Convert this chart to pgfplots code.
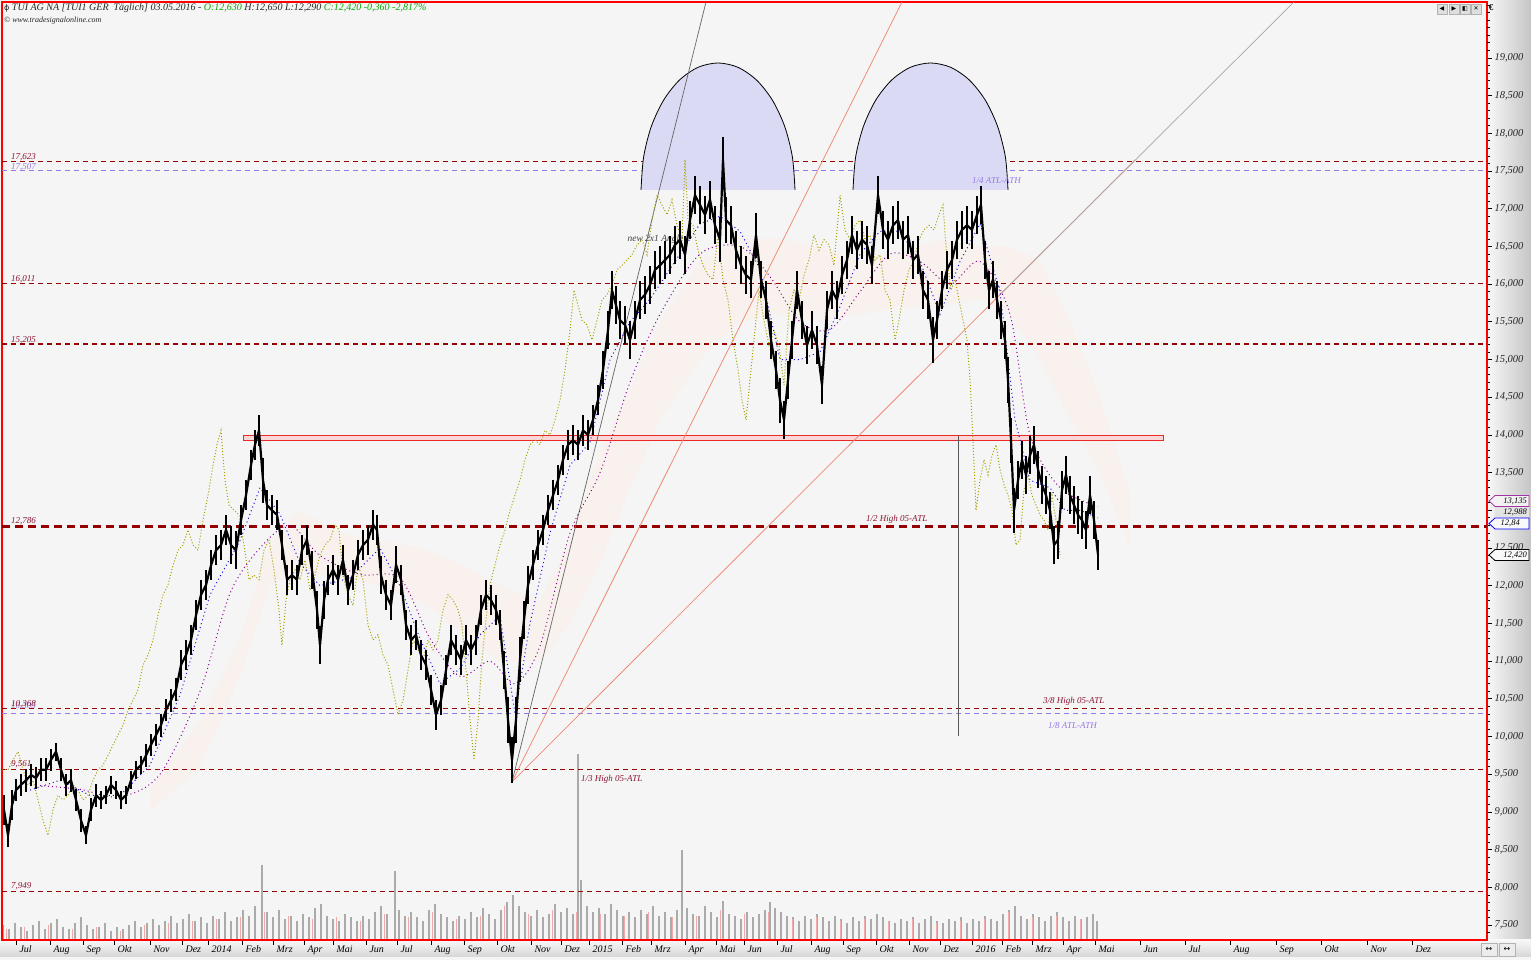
\documentclass[border=0pt]{standalone}
\usepackage{pgfplots}
\pgfplotsset{compat=1.18}
\usepackage{pgfplotstable}
\usepackage{fontspec}
\setmainfont{Liberation Serif}
\newfontfamily\dejavu{DejaVu Sans}

\definecolor{bg}{RGB}{245,245,245}
\definecolor{lvlred}{RGB}{150,0,0}
\definecolor{lvlpurple}{RGB}{150,120,230}
\definecolor{semi}{RGB}{218,218,245}
\definecolor{boxred}{RGB}{235,40,40}
\definecolor{boxfill}{RGB}{250,215,215}
\definecolor{salmon}{RGB}{240,140,120}
\definecolor{chikou}{RGB}{165,160,0}
\definecolor{tenkan}{RGB}{20,20,230}
\definecolor{kijun}{RGB}{140,0,140}
\definecolor{kumo}{RGB}{248,241,237}
\definecolor{vol}{RGB}{170,170,170}
\definecolor{volred}{RGB}{240,170,170}
\definecolor{hdrgreen}{RGB}{0,170,0}
\definecolor{txtred}{RGB}{140,20,50}

% daily closes (x = chart position, c = price, e = half range of the day)
\pgfplotstableread{
x c e
4 9030 200
8 8690 150
12 9090 200
16 9290 150
21 9360 150
26 9420 150
31 9490 150
36 9450 150
41 9560 150
46 9560 150
51 9690 150
56 9800 120
61 9560 150
66 9360 150
71 9420 150
76 9160 150
81 8890 150
86 8690 120
91 9030 150
96 9220 150
101 9160 120
106 9220 120
111 9360 120
116 9290 120
121 9160 120
126 9220 120
131 9420 120
136 9560 120
141 9620 120
146 9750 150
151 9890 150
156 10020 150
161 10150 150
166 10350 150
171 10480 150
176 10620 150
181 10950 200
186 11080 200
191 11280 200
196 11610 200
201 11880 200
206 12010 200
211 12270 200
216 12470 200
221 12540 200
226 12740 200
231 12540 250
236 12470 250
241 12870 200
246 13200 200
251 13600 200
255 13870 200
259 14060 200
263 13400 300
267 13070 200
272 13000 200
277 12940 200
282 12540 200
287 12080 200
292 12140 200
297 12080 200
302 12470 200
307 12610 200
312 12210 250
317 11680 250
320 11210 250
324 11810 250
328 12080 200
333 12210 200
338 12080 200
343 12340 200
348 11940 200
353 12140 200
358 12410 200
363 12540 200
368 12610 200
373 12810 200
377 12740 200
381 12140 250
386 11880 200
391 11740 200
396 12280 250
401 12080 200
406 11480 200
411 11280 200
416 11350 200
421 11080 200
426 10950 200
431 10620 200
436 10290 200
441 10480 200
446 10880 200
451 11280 200
456 11150 200
461 11020 200
466 11280 200
471 11150 200
476 11280 200
481 11680 200
486 11880 200
491 11810 200
496 11680 200
500 11480 200
504 10880 250
508 10220 300
512 9690 300
516 10220 300
520 11020 300
524 11550 250
528 12010 250
533 12280 200
538 12540 200
543 12740 200
548 13000 200
553 13200 200
558 13400 200
563 13670 200
568 13870 200
573 13930 200
578 13870 200
583 14060 200
588 14000 200
593 14200 200
598 14460 200
603 14860 250
608 15390 250
612 15920 250
616 15720 250
620 15520 250
625 15460 250
630 15260 250
635 15520 250
640 15790 250
645 15860 250
650 15990 250
655 16190 250
660 16250 250
665 16320 250
670 16390 250
675 16520 250
680 16590 250
685 16390 250
690 16850 250
695 17180 250
700 17050 250
705 16920 250
710 17120 250
715 16780 250
720 16590 300
723 17650 300
726 16850 300
731 16780 250
736 16450 250
741 16250 250
746 16120 250
751 16060 250
756 16650 300
761 16060 250
766 15790 250
771 15260 250
776 14860 250
780 14460 300
784 14200 250
788 14730 250
792 15260 250
797 15920 250
802 15520 250
807 15190 250
812 15390 250
817 15190 250
822 14660 250
827 15660 250
832 15920 250
837 15790 250
842 16120 250
847 16320 250
852 16650 250
857 16450 250
862 16590 250
867 16520 250
872 16250 250
878 17180 250
883 16720 250
888 16590 250
893 16780 250
898 16850 250
903 16590 250
908 16650 250
913 16320 250
918 16390 250
923 15920 250
928 15790 250
933 15260 300
937 15520 250
942 15920 250
947 16190 250
952 16320 250
957 16590 250
962 16720 250
967 16780 250
972 16720 250
977 16920 250
981 17050 250
985 16320 250
989 15920 250
993 16060 250
997 15790 250
1001 15520 250
1005 15260 250
1008 14730 300
1011 13930 300
1014 13000 300
1018 13400 250
1022 13670 250
1026 13470 250
1030 13730 250
1034 13870 250
1038 13540 250
1042 13340 250
1046 13200 250
1050 13000 250
1054 12540 250
1058 12610 250
1062 13270 250
1066 13470 250
1070 13200 250
1074 13070 250
1078 12940 250
1082 12870 250
1086 12740 250
1090 13200 250
1094 12870 250
1098 12410 200
}\closes

% volume (millions)
\pgfplotstableread{
x v
3 0.8
9 0.6
15 0.9
21 0.7
27 0.5
33 0.8
39 1.0
45 0.6
51 0.9
57 1.1
63 0.7
69 0.6
75 0.9
81 1.2
87 0.8
93 0.6
99 0.7
105 0.9
111 0.5
117 0.7
123 0.6
129 0.8
135 1.0
141 0.7
147 0.9
153 1.1
159 0.8
165 1.0
171 1.3
177 0.9
183 1.1
189 1.4
195 1.0
201 1.2
207 0.9
213 1.3
219 1.1
225 1.5
231 1.0
237 1.2
243 1.6
249 1.3
255 1.8
262 4.0
267 1.5
273 1.2
279 1.6
285 1.1
291 1.3
297 1.0
303 1.4
309 1.2
315 1.7
321 1.9
327 1.3
333 1.1
339 1.0
345 1.4
351 1.2
357 1.0
363 1.3
369 1.1
375 1.5
381 1.8
387 1.4
395 3.7
399 1.6
405 1.3
411 1.5
417 1.2
423 1.0
429 1.6
435 1.9
441 1.4
447 1.2
453 1.0
459 1.3
465 1.1
471 1.5
477 1.2
483 1.7
489 1.4
495 1.1
501 1.6
507 2.0
513 2.4
519 1.8
525 1.5
531 1.3
537 1.6
543 1.2
549 1.4
555 1.9
561 1.5
567 1.7
573 1.4
578 9.9
581 3.2
587 1.8
593 1.5
599 1.7
605 1.4
611 1.9
617 1.6
623 1.3
629 1.5
635 1.2
641 1.6
647 1.4
653 1.8
659 1.3
665 1.5
671 1.2
677 1.6
682 4.8
687 1.7
693 1.4
699 1.3
705 1.8
711 1.5
717 1.2
723 2.1
729 1.4
735 1.3
741 1.1
747 1.5
753 1.2
759 1.4
765 1.6
770 2.0
775 1.7
781 1.5
787 1.3
793 1.2
799 1.0
805 1.3
811 1.1
817 1.4
823 1.2
829 1.0
835 1.3
841 1.1
847 0.9
853 1.2
859 1.0
865 1.3
871 1.1
877 1.4
883 1.2
889 1.0
895 0.9
901 1.1
907 1.0
913 1.2
919 0.9
925 1.1
931 1.3
937 1.0
943 0.9
949 1.1
955 1.0
961 1.2
967 0.9
973 1.1
979 1.0
985 1.3
991 1.1
997 1.0
1003 1.4
1009 1.6
1015 1.8
1021 1.3
1027 1.1
1033 1.4
1039 1.2
1045 1.0
1051 1.3
1057 1.5
1063 1.2
1069 1.0
1075 1.3
1081 1.1
1087 1.2
1093 1.4
1097 1.0
}\volume

\begin{document}
\begin{tikzpicture}[x=1pt,y=1pt]
\fill[bg] (0,0) rectangle (1531,960);
\shade[left color=gray!6, right color=gray!45] (1487,20) rectangle (1531,960);
\shade[top color=gray!6, bottom color=gray!32] (0,3) rectangle (1531,20);
\fill[gray!8] (0,0) rectangle (1531,3);

% volume panel
\begin{axis}[at={(2pt,20pt)}, anchor=south west, scale only axis,
  width=1485pt, height=938pt, xmin=2, xmax=1487, ymin=0, ymax=50,
  axis lines=none]
\addplot[ycomb, vol, line width=1.1pt] table[x=x,y=v] {\volume};
\addplot[ycomb, volred, line width=1pt] coordinates {(6,0.6) (24,0.7) (48,0.8) (72,0.6) (96,0.7) (120,0.5) (144,0.8) (168,0.9) (192,1.0) (216,1.1) (240,1.2) (264,1.5) (288,1.3) (312,1.1) (336,1.2) (360,1.0) (384,1.4) (408,1.2) (432,1.5) (456,1.1) (480,1.3) (504,1.8) (528,1.4) (552,1.6) (576,1.5) (600,1.4) (624,1.3) (648,1.5) (672,1.2) (696,1.3) (720,1.6) (744,1.4) (768,1.5) (792,1.1) (816,1.2) (840,1.0) (864,1.1) (888,1.0) (912,1.1) (936,0.9) (960,1.0) (984,1.1) (1008,1.5) (1032,1.2) (1056,1.3) (1080,1.1)};
\end{axis}

% price panel
\begin{axis}[at={(2pt,20pt)}, anchor=south west, scale only axis,
  width=1485pt, height=938pt,
  xmin=2, xmax=1487, ymin=7302, ymax=19742,
  axis line style={red, line width=1.3pt},
  tick align=outside, major tick length=5pt, minor tick length=2.5pt,
  tick style={black, line width=0.8pt},
  ytick={7500,8000,...,19000}, minor y tick num=4,
  extra y ticks={19100,19200,19300,19400,19500,19600,19700,7400},
  extra y tick labels={},
  extra y tick style={major tick length=2.5pt},
  ytick pos=right, yticklabel pos=right,
  yticklabel style={font=\itshape\fontsize{10.5}{12}\selectfont, text=black!85, xshift=-1pt},
  /pgf/number format/.cd, fixed, precision=0, 1000 sep={,}, assume math mode=true,
  /pgfplots/.cd,
  scaled y ticks=false,
  xtick={16,50,83,114,150,182,208,242,273,304,333,366,397,431,464,497,531,561,589,622,651,685,716,744,777,811,843,876,909,940,972,1002,1032,1063,1095,1140,1185,1230,1276,1321,1367,1412},
  xticklabels={Jul,Aug,Sep,Okt,Nov,Dez,2014,Feb,Mrz,Apr,Mai,Jun,Jul,Aug,Sep,Okt,Nov,Dez,2015,Feb,Mrz,Apr,Mai,Jun,Jul,Aug,Sep,Okt,Nov,Dez,2016,Feb,Mrz,Apr,Mai,Jun,Jul,Aug,Sep,Okt,Nov,Dez},
  xtick pos=bottom,
  xticklabel style={font=\itshape\fontsize{10}{12}\selectfont, anchor=north west, xshift=0pt, yshift=3pt},
]
% cloud
\addplot[fill=kumo, draw=none] coordinates {(150,9300) (200,10200) (240,11300) (270,12600) (300,13000) (340,12700) (380,12600) (420,12500) (460,12300) (500,12000) (540,11800) (570,12600) (600,13800) (630,14600) (660,15500) (700,16300) (740,16600) (780,16600) (820,16500) (860,16300) (900,16400) (940,16600) (980,16500) (1010,16500) (1040,16300) (1070,15500) (1100,14500) (1130,13200)
 (1130,12500) (1100,13500) (1070,14200) (1040,15000) (1010,15600) (980,15800) (940,15700) (900,15700) (860,15600) (820,15500) (780,15600) (740,15500) (700,15000) (660,14200) (630,13300) (600,12300) (570,11500) (540,11000) (500,11000) (460,11400) (420,11800) (380,12000) (340,12100) (300,12200) (270,12000) (240,10800) (200,9600) (150,9000)};
% levels
\addplot[lvlred, line width=1.2pt, dash pattern=on 5pt off 4pt] coordinates {(2,17623) (1487,17623)};
\addplot[lvlpurple, line width=1.1pt, dash pattern=on 5pt off 4pt] coordinates {(2,17507) (1487,17507)};
\addplot[lvlred, line width=1.2pt, dash pattern=on 5pt off 4pt] coordinates {(2,16011) (1487,16011)};
\addplot[lvlred, line width=1.2pt, dash pattern=on 5pt off 4pt] coordinates {(2,15205) (1487,15205)};
\addplot[lvlred, line width=2.4pt, dash pattern=on 8pt off 5pt] coordinates {(2,12786) (1487,12786)};
\addplot[lvlred, line width=1.2pt, dash pattern=on 5pt off 4pt] coordinates {(2,10368) (1487,10368)};
\addplot[lvlpurple, line width=1.1pt, dash pattern=on 5pt off 4pt] coordinates {(2,10305) (1487,10305)};
\addplot[lvlred, line width=1.2pt, dash pattern=on 5pt off 4pt] coordinates {(2,9561) (1487,9561)};
\addplot[lvlred, line width=1.2pt, dash pattern=on 5pt off 4pt] coordinates {(2,7949) (1487,7949)};
% resistance box
\addplot[draw=boxred, fill=boxfill, line width=1pt] coordinates {(243,13920) (1163,13920) (1163,13990) (243,13990) (243,13920)};
% arcs
\addplot[smooth, fill=semi, draw=black, line width=0.8pt] coordinates {(641,17249) (643.6,17685) (651.3,18091) (663.6,18440) (679.5,18707) (698.1,18876) (718,18933) (737.9,18876) (756.5,18707) (772.4,18440) (784.7,18091) (792.4,17685) (795,17249)};
\addplot[smooth, fill=semi, draw=black, line width=0.8pt] coordinates {(853,17249) (855.6,17685) (863.4,18091) (875.7,18440) (891.7,18707) (910.4,18876) (930.5,18933) (950.6,18876) (969.3,18707) (985.3,18440) (997.6,18091) (1005.4,17685) (1008,17249)};
% angles from the low
\addplot[gray!80!black, line width=0.7pt] coordinates {(512,9400) (706,19742)};
\addplot[salmon, line width=0.8pt] coordinates {(512,9400) (902,19742)};
\addplot[salmon, line width=0.8pt] coordinates {(512,9400) (1135,17647)};
\addplot[gray!70, line width=0.7pt] coordinates {(1000,15860) (1294,19742)};
\addplot[gray!70!black, line width=0.8pt] coordinates {(958,13990) (958,10007)};
\node[anchor=west, font=\itshape\fontsize{9.5}{11}\selectfont, text=black!75] at (axis cs:624,16599) {new 2x1 Angle};
% lagging span
\addplot[chikou, line width=1pt, dash pattern=on 1pt off 2pt] table[x expr=\thisrow{x}-38, y=c] {\closes};
% kijun
\addplot[kijun, line width=1pt, dash pattern=on 1pt off 3pt, smooth] coordinates {(40,9350) (80,9300) (120,9200) (160,9500) (200,10600) (230,11900) (260,12500) (290,12800) (320,12400) (360,12150) (400,12100) (430,11300) (460,10800) (490,11000) (515,10700) (540,11200) (570,12700) (600,13500) (630,14700) (660,15600) (700,16400) (740,16500) (770,16100) (800,15500) (830,15400) (860,15900) (890,16400) (920,16300) (950,16000) (980,16300) (1010,15600) (1030,14000) (1060,13300) (1098,13050)};
% tenkan
\addplot[tenkan, line width=1pt, dash pattern=on 1pt off 3pt] coordinates {(30,9290) (60,9420) (90,9220) (120,9220) (150,9620) (180,10550) (210,11880) (240,12600) (260,13300) (280,12950) (300,12300) (320,12000) (350,12100) (380,12500) (400,12000) (420,11300) (440,10700) (460,10900) (480,11350) (500,11600) (515,10300) (530,11500) (550,12700) (570,13600) (590,13900) (610,15000) (630,15500) (650,15800) (680,16400) (700,16800) (720,16900) (740,16700) (760,16200) (780,15000) (800,15000) (820,15100) (840,15700) (860,16400) (880,16700) (900,16700) (920,16300) (940,15600) (960,16300) (980,16800) (1000,15900) (1015,14200) (1030,13400) (1050,13300) (1065,13000) (1080,13000) (1098,12900)};
% price
\addplot[black, line width=2.2pt, line join=bevel,
  error bars/.cd, y dir=both, y explicit, error mark=none,
  error bar style={black, line width=1.2pt}]
  table[x=x, y=c, y error=e] {\closes};
\end{axis}

% level labels
\begin{scope}[font=\itshape\fontsize{9}{10}\selectfont]
\node[anchor=west, text=txtred, inner sep=0] at (11,803) {17,623};
\node[anchor=west, text=lvlpurple, inner sep=0] at (11,793) {17,507};
\node[anchor=west, text=txtred, inner sep=0] at (11,681) {16,011};
\node[anchor=west, text=txtred, inner sep=0] at (11,620) {15,205};
\node[anchor=west, text=txtred, inner sep=0] at (11,439) {12,786};
\node[anchor=west, text=lvlpurple, inner sep=0] at (11,254) {10,305};
\node[anchor=west, text=txtred, inner sep=0] at (11,256) {10,368};
\node[anchor=west, text=txtred, inner sep=0] at (11,196) {9,561};
\node[anchor=west, text=txtred, inner sep=0] at (11,74) {7,949};
\node[anchor=west, text=txtred, inner sep=0] at (866,441) {1/2 High 05-ATL};
\node[anchor=west, text=txtred, inner sep=0] at (1043,259) {3/8 High 05-ATL};
\node[anchor=west, text=lvlpurple, inner sep=0] at (1048,234) {1/8 ATL-ATH};
\node[anchor=west, text=txtred, inner sep=0] at (581,181) {1/3 High 05-ATL};
\node[anchor=west, text=lvlpurple, inner sep=0] at (972,779) {1/4 ATL-ATH};
\end{scope}

% header
\node[anchor=west, inner sep=0, font=\itshape\fontsize{10}{12}\selectfont, text=black!85] at (4,952)
 {{\dejavu\upshape\fontsize{8}{10}\selectfont ɸ} TUI AG NA [TUI1 GER\ \ Täglich] 03.05.2016 - \textcolor{hdrgreen}{O:12,630} H:12,650 L:12,290 \textcolor{hdrgreen}{C:12,420 -0,360 -2,817\%}};
\node[anchor=west, inner sep=0, font=\itshape\fontsize{8}{10}\selectfont, text=black!85] at (4,939) {\copyright\ www.tradesignalonline.com};

% window buttons
\foreach \bx/\g in {1437/◀,1449/▶,1460/◧,1471/✕}{
  \draw[gray!60, fill=gray!25] (\bx,946) rectangle ++(10,10);
  \node[font=\dejavu\fontsize{6}{6}\selectfont, inner sep=0] at (\bx+5,951) {\g};
}
\node[font=\fontsize{9}{10}\selectfont\bfseries, inner sep=0] at (1491,952) {€};
\foreach \bx in {1481,1499}{
  \draw[gray!60, fill=gray!15] (\bx,4) rectangle ++(16,13);
  \node[font=\dejavu\fontsize{8}{8}\selectfont, inner sep=0] at (\bx+8,10.5) {↔};
}

% last value markers
\begin{scope}[font=\itshape\fontsize{8.5}{9}\selectfont]
\draw[kijun!80, fill=gray!10, line width=0.8pt] (1489,459) -- (1495,464.5) -- (1529,464.5) -- (1529,453.5) -- (1495,453.5) -- cycle;
\node[anchor=east, inner sep=0] at (1527,459) {13,135};
\fill[gray!22] (1495,443) rectangle (1529,452.5);
\node[anchor=east, inner sep=0] at (1527,447.5) {12,988};
\draw[blue, fill=gray!5, line width=0.8pt] (1489,436.5) -- (1495,442) -- (1529,442) -- (1529,431) -- (1495,431) -- cycle;
\node[anchor=east, inner sep=0] at (1520,436.5) {12,84};
\draw[black, fill=gray!5, line width=0.8pt] (1489,405) -- (1495,410.5) -- (1529,410.5) -- (1529,399.5) -- (1495,399.5) -- cycle;
\node[anchor=east, inner sep=0] at (1527,405) {12,420};
\end{scope}

\pgfresetboundingbox
\path[use as bounding box] (0,0) rectangle (1531,960);
\end{tikzpicture}
\end{document}
